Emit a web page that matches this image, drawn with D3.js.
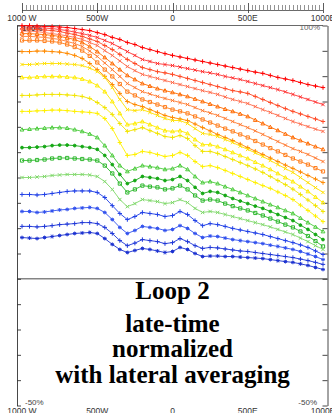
<!DOCTYPE html>
<html>
<head>
<meta charset="utf-8">
<script src="https://cdn.jsdelivr.net/npm/d3@7"></script>
<style>
  body { margin: 0; background: #fff; }
  svg { display: block; }
</style>
</head>
<body>
<div id="chart"></div>
<script>
// stations along the loop (m), W negative / E positive
const stations = [-1000,-950,-900,-850,-800,-750,-700,-650,-600,-550,-500,-450,-400,-350,-300,-250,-200,-150,-100,-50,
  0,50,100,150,200,250,300,350,400,450,500,550,600,650,700,750,800,850,900,950,1000];

// normalized response (%) per time gate, early (top) to late (bottom)
const gate01 = [100,100,99.8,99.6,99.6,99.4,99.2,98.8,98.4,98.0,97.2,96.4,95.3,94.5,93.3,92.5,91.3,90.5,89.7,88.9,88.2,87.6,87.0,86.4,85.8,85.2,84.6,84.0,83.4,82.8,82.2,81.6,81.1,80.3,79.5,78.9,78.3,77.5,76.7,76.1,75.5];
const gate02 = [99.4,99.4,99.2,99.0,98.8,98.4,98.0,97.4,96.8,96.1,95.3,94.1,92.9,91.3,89.7,88.2,86.6,85.8,85.0,84.6,84.2,83.6,83.0,82.4,81.8,81.3,80.7,79.9,79.3,78.7,77.9,77.1,76.3,75.5,74.7,73.8,72.8,71.8,70.8,69.8,68.8];
const gate03 = [98.6,98.6,98.4,98.2,98.0,97.6,97.0,96.4,95.7,94.7,93.7,92.1,90.5,88.6,86.6,85.0,83.4,82.6,81.8,81.3,80.7,79.9,79.1,78.3,77.5,76.7,75.9,75.1,74.3,73.8,73.2,72.0,70.8,69.6,68.4,67.2,66.1,65.1,64.1,63.1,62.1];
const gate04 = [97.8,97.8,97.6,97.2,96.8,96.4,95.9,95.3,94.5,93.3,92.1,90.1,88.2,86.0,83.8,82.2,80.7,79.9,79.1,78.3,77.5,76.7,75.9,75.1,74.3,73.6,72.8,71.8,70.8,70.0,69.2,68.0,66.8,65.7,64.5,63.3,62.1,61.1,60.1,59.1,58.2];
const gate05 = [96.8,96.8,96.6,96.4,96.1,95.7,95.1,94.5,93.3,91.7,89.7,87.4,85.0,82.6,80.3,78.7,77.1,76.1,75.1,74.3,73.6,72.8,72.0,71.0,70.0,69.0,68.0,67.0,66.1,65.1,64.1,62.7,61.3,59.9,58.6,57.2,55.8,54.6,53.4,52.2,51.1];
const gate06 = [95.7,95.7,95.5,95.3,94.9,94.5,93.7,92.9,91.7,89.9,87.8,85.2,82.6,79.9,77.1,75.5,73.9,73.0,72.0,71.2,70.4,69.6,68.8,67.6,66.4,65.5,64.5,63.3,62.1,60.9,59.7,58.4,57.0,55.6,54.2,52.8,51.4,50.3,49.1,47.7,46.3];
const gate07 = [94.1,94.1,94.1,93.9,93.7,93.3,92.5,91.5,90.1,88.0,85.4,82.6,79.9,76.9,73.9,72.4,70.8,69.8,68.8,67.8,66.8,66.1,65.3,64.1,62.9,61.7,60.5,59.3,58.2,57.0,55.8,54.4,53.0,51.6,50.3,48.9,47.5,46.3,45.1,43.7,42.4];
const gate08 = [89.7,89.7,89.9,89.9,89.7,89.5,89.0,88.2,87.0,85.0,82.6,79.9,76.7,73.2,70.0,68.8,68.0,66.8,65.7,64.5,63.7,63.1,62.5,61.1,59.7,58.4,57.0,55.8,54.6,53.2,51.8,50.4,49.1,47.7,46.3,44.9,43.6,42.2,40.8,39.4,38.0];
const gate09 = [84.6,84.6,84.8,85.0,85.0,85.0,84.8,84.6,84.2,83.2,81.8,79.5,75.5,70.8,66.8,66.4,66.8,65.7,64.5,63.3,62.5,62.5,61.3,59.3,57.4,57.0,56.2,55.0,53.8,52.4,51.1,49.7,48.3,46.7,45.1,43.5,42.0,40.0,38.0,36.0,34.1];
const gate10 = [79.5,79.5,79.7,79.9,79.9,79.9,79.7,79.5,78.9,77.9,76.3,73.9,70.0,65.3,60.9,61.3,62.1,60.9,59.7,58.5,58.2,58.5,57.4,55.0,53.0,53.0,52.2,51.1,49.9,48.7,47.5,46.1,44.7,43.2,41.6,40.0,38.4,36.4,34.5,32.3,30.1];
const gate11 = [72.4,72.4,72.6,72.8,72.8,72.8,72.6,72.4,72.0,71.2,69.6,67.6,64.9,61.3,58.2,58.9,59.7,58.5,57.4,56.2,55.8,56.6,55.4,52.6,50.3,50.3,49.5,48.3,47.1,45.9,44.7,43.4,42.0,40.4,38.8,37.2,35.4,33.3,31.1,28.9,26.6];
const gate12 = [66.1,66.1,66.3,66.4,66.6,66.6,66.4,66.1,65.9,65.7,65.3,63.3,59.3,53.8,48.7,49.1,50.3,49.9,49.1,48.3,48.7,49.9,48.7,46.3,44.3,44.7,43.9,42.8,41.6,40.4,39.2,38.0,36.8,35.7,34.3,32.9,31.3,29.1,27.0,24.8,22.6];
const gate13 = [58.9,59.1,59.3,59.5,59.7,59.7,59.5,58.9,58.2,57.2,55.8,52.6,48.7,44.7,42.4,43.5,44.7,44.3,43.9,43.2,43.5,44.7,43.2,40.4,38.0,38.4,37.6,36.4,35.3,34.1,32.9,31.7,30.5,29.3,28.2,27.0,25.8,24.0,22.2,20.5,18.7];
const gate14 = [51.8,51.8,52.0,52.2,52.6,52.8,52.8,52.6,52.2,51.8,51.1,48.7,45.1,41.2,37.6,38.8,40.4,40.0,39.6,38.8,39.2,40.4,38.8,36.1,33.7,34.5,34.1,32.9,31.7,30.7,29.7,28.7,27.8,26.6,25.4,24.2,23.0,21.2,19.5,17.5,15.5];
const gate15 = [46.7,46.7,46.9,47.1,47.5,47.7,47.7,47.5,47.3,47.1,46.7,44.7,41.6,37.6,34.1,35.3,36.8,36.4,36.1,35.3,35.7,36.8,35.3,32.9,30.9,31.3,30.9,29.7,28.7,27.8,27.0,26.0,25.0,23.8,22.6,21.4,20.3,18.7,16.9,14.9,12.8];
const gate16 = [40.0,40.0,40.2,40.4,40.8,41.0,41.2,41.2,41.2,41.0,40.4,38.4,35.3,31.3,28.5,29.7,31.3,30.9,30.5,29.7,30.1,31.3,30.1,27.8,26.2,26.6,26.2,25.4,24.6,23.8,23.0,22.2,21.4,20.5,19.5,18.5,17.5,16.1,14.7,13.1,11.6];
const gate17 = [33.3,33.3,33.1,33.3,33.7,34.1,34.5,34.7,34.7,34.7,34.1,32.1,28.9,25.8,23.4,24.6,26.2,25.8,25.4,24.6,25.0,26.6,25.4,23.0,21.0,21.8,21.4,20.7,19.9,19.3,18.7,18.1,17.5,16.7,15.9,15.1,14.3,13.4,12.4,11.0,9.6];
const gate18 = [26.6,26.6,26.2,26.4,26.8,27.2,27.4,27.8,28.0,28.2,27.8,26.2,23.4,20.3,17.9,19.1,20.7,20.3,19.9,19.1,19.5,21.0,19.9,17.9,16.3,16.9,16.7,16.1,15.5,15.1,14.7,14.3,13.9,13.3,12.8,12.2,11.6,10.8,9.8,8.8,7.6];
const gate19 = [20.7,20.7,20.5,20.7,21.0,21.4,21.6,21.8,22.2,22.2,21.8,20.3,17.9,15.1,13.1,14.1,15.5,15.1,14.7,13.9,14.3,15.9,14.7,13.1,12.0,12.4,12.2,11.8,11.4,11.0,10.8,10.4,10.0,9.6,9.2,8.8,8.4,7.8,7.2,6.5,5.7];
const gate20 = [16.3,16.1,15.9,16.3,16.7,17.1,17.5,17.9,18.1,18.3,17.9,15.9,13.6,11.6,10.4,11.2,12.0,11.6,11.0,10.4,10.8,12.4,11.6,10.0,8.8,9.0,9.0,8.8,8.8,8.6,8.4,8.2,8.0,7.6,7.2,6.8,6.5,5.9,5.3,4.5,3.7];

const gates = [gate01,gate02,gate03,gate04,gate05,gate06,gate07,gate08,gate09,gate10,
               gate11,gate12,gate13,gate14,gate15,gate16,gate17,gate18,gate19,gate20];
const gateColors = ['#ff0000','#ff2e2e','#ff4a26','#ff6a4a','#ff6a00','#ff7a30','#ff7f1e','#ff8a00',
                    '#ffe000','#ffec00','#f2e400','#fff000',
                    '#4ccc3c','#14a814','#2eb82e','#7fd86a',
                    '#2040e6','#3050ee','#2038d8','#1a30d0'];
const gateMarks = ['plus','x','plus','x','tri','x','sq','plus',
                   'x','tri','plus','plus',
                   'tri','dot','sq','x',
                   'plus','star','plus','star'];

const distTicks = [-1000,-500,0,500,1000];
const distLabels = ['1000 W','500W','0','500E','1000E'];
const titleLines = ['Loop 2','late-time','normalized','with lateral averaging'];

const W = 332, H = 413;
const svg = d3.select('#chart').append('svg').attr('width', W).attr('height', H);
svg.append('rect').attr('width', W).attr('height', H).attr('fill', '#fff');

const x = d3.scaleLinear().domain([-1000, 1000]).range([22, 323]);
const y = d3.scaleLinear().domain([-50, 100]).range([405.5, 25.5]);
const sans = 'Liberation Sans, Arial, sans-serif';

// ruler along the top
const ruler = svg.append('g').attr('stroke', '#444').attr('stroke-width', 0.8);
ruler.append('line').attr('x1', x(-1000)).attr('x2', x(1000)).attr('y1', 10.5).attr('y2', 10.5);
ruler.selectAll('.minor').data(d3.range(-1000, 1001, 25)).enter().append('line')
  .attr('x1', d => Math.round(x(d)) + 0.5).attr('x2', d => Math.round(x(d)) + 0.5)
  .attr('y1', d => d % 500 === 0 ? 3 : 5).attr('y2', d => d % 500 === 0 ? 13 : 10.5)
  .attr('stroke', d => d % 500 === 0 ? '#333' : '#777');

const labelAt = (yy, cls) => svg.selectAll('.' + cls).data(distTicks).enter().append('text')
  .attr('class', cls).attr('x', d => x(d)).attr('y', yy)
  .attr('text-anchor', 'middle').attr('font-family', sans).attr('font-size', 8.5)
  .attr('fill', '#333').text((d, i) => distLabels[i]);
labelAt(20.5, 'toplab');
labelAt(414, 'botlab');

// frame and axes
svg.append('line').attr('x1', 17).attr('x2', x(1000)).attr('y1', 25.5).attr('y2', 25.5)
  .attr('stroke', '#444').attr('stroke-width', 0.8);
svg.append('line').attr('x1', 17).attr('x2', 327.5).attr('y1', y(0)).attr('y2', y(0))
  .attr('stroke', '#333').attr('stroke-width', 0.9);

const yTicks = d3.range(-50, 101, 10);
const leftAx = svg.append('g').attr('transform', 'translate(17,0)')
  .call(d3.axisRight(y).tickValues(yTicks).tickSize(4).tickSizeOuter(0).tickFormat(''));
const rightAx = svg.append('g').attr('transform', 'translate(327.5,0)')
  .call(d3.axisLeft(y).tickValues(yTicks).tickSize(5).tickSizeOuter(0).tickFormat(''));
svg.selectAll('.domain, .tick line').attr('stroke', '#333').attr('stroke-width', 0.9);

const pctLab = (xx, yy, txt, anchor, col) => svg.append('text').attr('x', xx).attr('y', yy)
  .attr('text-anchor', anchor).attr('font-family', sans).attr('font-size', 8)
  .attr('fill', col).text(txt);
pctLab(22, 31, '100%', 'start', '#111').attr('font-weight', 'bold');
pctLab(320, 30, '100%', 'end', '#666');
pctLab(25, 404.5, '-50%', 'start', '#444');
pctLab(317, 404.5, '-50%', 'end', '#444');

// marker shapes
const markPath = {
  plus: (px, py) => `M${px - 2.2},${py}h4.4M${px},${py - 2.2}v4.4`,
  x:    (px, py) => `M${px - 1.7},${py - 1.7}l3.4,3.4M${px - 1.7},${py + 1.7}l3.4,-3.4`,
  sq:   (px, py) => `M${px - 1.6},${py - 1.6}h3.2v3.2h-3.2z`,
  tri:  (px, py) => `M${px},${py - 1.9}l1.9,3.3h-3.8z`,
  dot:  (px, py) => `M${px - 1.4},${py}a1.4,1.4 0 1,0 2.8,0a1.4,1.4 0 1,0 -2.8,0`,
  star: (px, py) => `M${px - 1.9},${py}h3.8M${px},${py - 1.9}v3.8M${px - 1.4},${py - 1.4}l2.8,2.8M${px - 1.4},${py + 1.4}l2.8,-2.8`
};

const line = d3.line().x(d => x(d[0])).y(d => y(d[1]));
const plot = svg.append('g');
gates.forEach((vals, g) => {
  const pts = stations.map((s, i) => [s, vals[i]]);
  const gg = plot.append('g');
  gg.append('path').datum(pts).attr('d', line)
    .attr('fill', 'none').attr('stroke', gateColors[g]).attr('stroke-width', 0.9);
  gg.append('path')
    .attr('d', pts.map(p => markPath[gateMarks[g]](x(p[0]), y(p[1]))).join(''))
    .attr('fill', gateMarks[g] === 'dot' ? gateColors[g] : 'none')
    .attr('stroke', gateColors[g]).attr('stroke-width', 1);
});

// title block
const titleY = [299, 332, 357, 383];
svg.append('g').selectAll('text').data(titleLines).enter().append('text')
  .attr('x', x(0)).attr('y', (d, i) => titleY[i])
  .attr('text-anchor', 'middle')
  .attr('font-family', 'Liberation Serif, "DejaVu Serif", serif')
  .attr('font-weight', 'bold').attr('font-size', 25).attr('fill', '#000')
  .text(d => d);
</script>
</body>
</html>
